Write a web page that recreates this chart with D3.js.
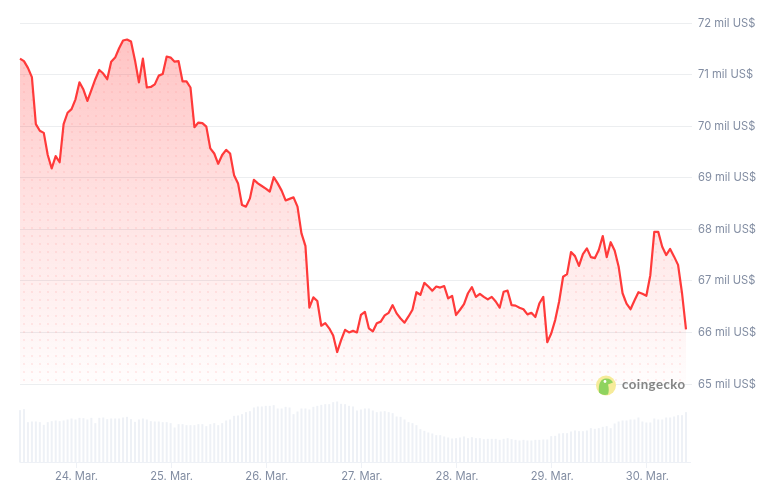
<!DOCTYPE html>
<html><head><meta charset="utf-8">
<script src="https://cdn.jsdelivr.net/npm/d3@7"></script>
<style>html,body{margin:0;padding:0;background:#fff}svg{display:block;filter:blur(0.35px)}text{font-family:Inter,"Noto Sans",sans-serif}</style>
</head><body><svg id="c" width="768" height="488"></svg>
<script>
const startHour = Date.UTC(2025,2,23,10);
const prices = [71.30,71.25,71.12,70.94,70.03,69.90,69.86,69.43,69.17,69.41,69.29,70.03,70.25,70.32,70.51,70.84,70.70,70.48,70.69,70.90,
71.08,71.01,70.90,71.24,71.32,71.50,71.65,71.67,71.63,71.27,70.84,71.30,70.74,70.75,70.80,70.97,71.00,71.34,71.32,71.24,
71.25,70.86,70.86,70.74,69.97,70.06,70.05,69.98,69.56,69.46,69.26,69.43,69.53,69.46,69.04,68.88,68.46,68.43,68.59,68.95,
68.88,68.83,68.78,68.72,69.00,68.88,68.74,68.55,68.58,68.61,68.43,67.91,67.67,66.47,66.67,66.60,66.12,66.17,66.07,65.93,
65.61,65.84,66.04,65.99,66.02,65.99,66.33,66.39,66.07,66.01,66.17,66.20,66.32,66.37,66.52,66.36,66.26,66.18,66.30,66.43,
66.77,66.72,66.95,66.88,66.80,66.88,66.86,66.89,66.65,66.70,66.33,66.43,66.54,66.75,66.87,66.68,66.74,66.68,66.63,66.68,
66.59,66.47,66.78,66.80,66.52,66.51,66.47,66.44,66.34,66.37,66.29,66.55,66.68,65.80,65.97,66.23,66.59,67.07,67.12,67.55,
67.47,67.28,67.51,67.62,67.45,67.43,67.59,67.86,67.45,67.74,67.58,67.27,66.75,66.55,66.44,66.61,66.77,66.74,66.70,67.10,
67.94,67.94,67.65,67.49,67.61,67.46,67.30,66.75,66.05];
const volumes = [157,160,121,123,123,121,113,121,124,126,124,126,129,132,129,134,133,129,134,118,
134,135,130,132,132,132,135,137,130,122,129,132,129,124,123,123,121,121,118,105,
115,115,112,112,112,115,115,109,115,118,112,118,126,129,140,141,145,151,154,165,
168,168,170,170,172,162,162,167,165,145,153,162,162,159,167,170,173,175,175,181,
183,176,175,170,168,156,159,162,162,156,151,153,154,151,148,138,137,129,121,118,
112,100,95,90,87,82,82,78,75,72,73,75,78,73,76,73,73,70,71,71,
71,68,71,73,70,68,66,68,66,66,68,68,69,69,79,80,87,88,88,93,
96,94,94,96,103,101,103,107,109,103,117,123,126,126,129,129,135,123,120,120,
132,129,129,135,135,138,142,142,151];
const priceTicks = [65,66,67,68,69,70,71,72];
const priceTickLabels = ["65 mil US$","66 mil US$","67 mil US$","68 mil US$","69 mil US$","70 mil US$","71 mil US$","72 mil US$"];
const dayTicks = [24,25,26,27,28,29,30];
const dayTickLabels = ["24. Mar.","25. Mar.","26. Mar.","27. Mar.","28. Mar.","29. Mar.","30. Mar."];

const times = prices.map((_,i)=>new Date(startHour+i*3600e3));
const x = d3.scaleUtc().domain([times[0],times[times.length-1]]).range([20,686]);
const y = d3.scaleLinear().domain([65,72]).range([383.5,22.5]);
const vy = d3.scaleLinear().domain([0,180]).range([462.5,402.5]);
const svg = d3.select("#c");
const defs = svg.append("defs");
const g = defs.append("linearGradient").attr("id","fade").attr("gradientUnits","userSpaceOnUse")
  .attr("x1",0).attr("x2",0).attr("y1",y(71.67)).attr("y2",y(65));
g.append("stop").attr("offset",0).attr("stop-color","#ff3a3a").attr("stop-opacity",0.3);
g.append("stop").attr("offset",0.5).attr("stop-color","#ff3a3a").attr("stop-opacity",0.14);
g.append("stop").attr("offset",1).attr("stop-color","#ff3a3a").attr("stop-opacity",0.01);
const p = defs.append("pattern").attr("id","dots").attr("patternUnits","userSpaceOnUse").attr("width",8).attr("height",8).attr("x",20).attr("y",0);
p.append("circle").attr("cx",4).attr("cy",4).attr("r",1.1).attr("fill","#ff8080").attr("fill-opacity",0.18);

// grid
svg.append("g").selectAll("line").data(priceTicks).join("line")
  .attr("x1",20).attr("x2",692).attr("y1",d=>Math.round(y(d))+.5).attr("y2",d=>Math.round(y(d))+.5)
  .attr("stroke","#eceef0").attr("stroke-width",1);

// area + dots + line
const area = d3.area().x((d,i)=>x(times[i])).y0(y(65)).y1(d=>y(d));
svg.append("path").datum(prices).attr("d",area).attr("fill","url(#fade)");
svg.append("path").datum(prices).attr("d",area).attr("fill","url(#dots)");
svg.append("path").datum(prices).attr("d",d3.line().x((d,i)=>x(times[i])).y(d=>y(d)))
  .attr("fill","none").attr("stroke","#ff3a3a").attr("stroke-width",2.2).attr("stroke-linejoin","round");

// volume
svg.append("g").selectAll("rect").data(volumes).join("rect")
  .attr("x",(d,i)=>x(times[i])-1).attr("width",2)
  .attr("y",d=>vy(d)).attr("height",d=>vy(0)-vy(d)).attr("fill","#eef1f6");
svg.append("line").attr("x1",20).attr("x2",691).attr("y1",462.5).attr("y2",462.5).attr("stroke","#eef1f6");

// y labels
svg.append("g").selectAll("text").data(priceTicks).join("text")
  .attr("x",698).attr("y",d=>y(d)+4).attr("font-size",11.2).attr("fill","#828da2")
  .text((d,i)=>priceTickLabels[i]);

// x ticks
const dayDates = dayTicks.map(d=>new Date(Date.UTC(2025,2,d)));
svg.append("g").selectAll("line").data(dayDates).join("line")
  .attr("x1",d=>Math.round(x(d))+.5).attr("x2",d=>Math.round(x(d))+.5).attr("y1",462).attr("y2",468).attr("stroke","#eef1f6");
svg.append("g").selectAll("text").data(dayDates).join("text")
  .attr("x",d=>x(d)+1).attr("y",480).attr("text-anchor","middle").attr("font-size",11.2).attr("fill","#828da2")
  .text((d,i)=>dayTickLabels[i]);

// logo
const lg = svg.append("g").attr("transform","translate(606,385.5)");
lg.append("circle").attr("r",10).attr("fill","#f6eb9a");
lg.append("path").attr("d","M-7,7 C-8,-2 -5,-7 0,-7 C4,-7 6,-5 7,-3 L2,-1 C3,3 3,6 2,9 C-2,10 -5,9 -7,7Z").attr("fill","#8fd35f");
lg.append("circle").attr("cx",-1).attr("cy",-4).attr("r",1.4).attr("fill","#fff");
svg.append("text").attr("x",622).attr("y",389).attr("font-size",13.2).attr("font-weight",700).attr("letter-spacing",0.5)
  .attr("fill","#858585").style("font-family","Lato,Inter,sans-serif").text("coingecko");
</script></body></html>
